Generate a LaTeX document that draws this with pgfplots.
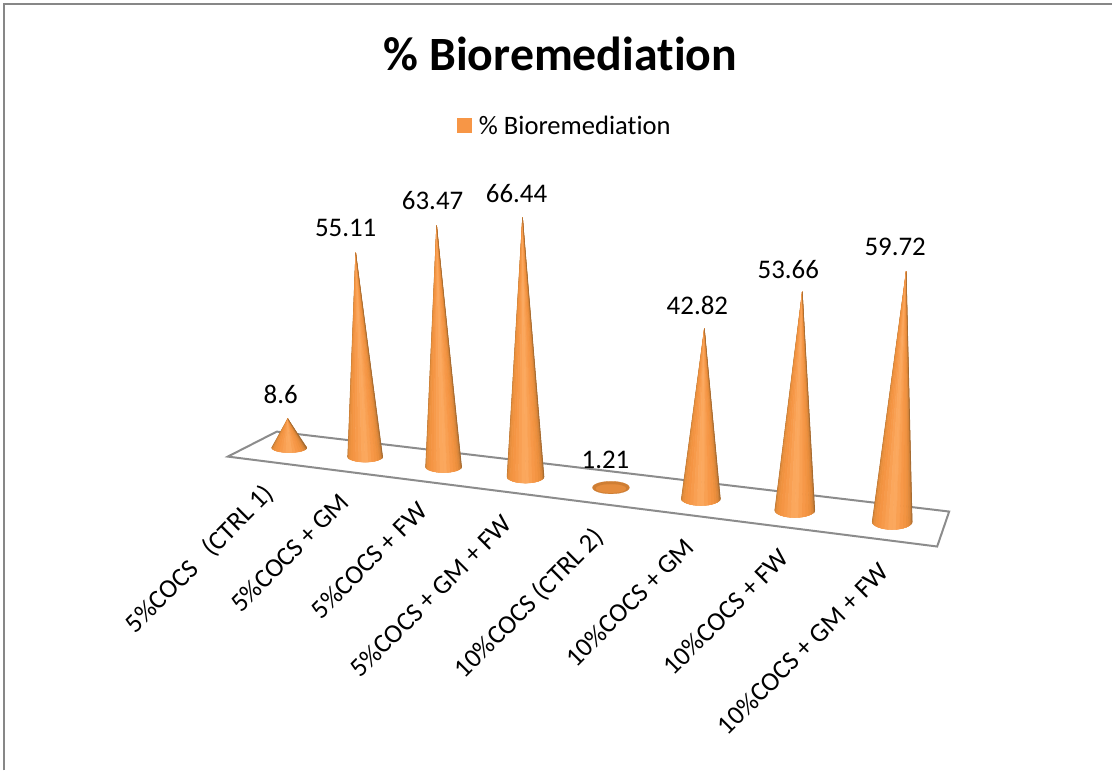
\documentclass[border=0pt]{standalone}
\usepackage{pgfplots}
\usepackage{fontspec}
\setmainfont{Carlito}[Ligatures=NoCommon]
\pgfplotsset{compat=1.18}
\definecolor{cs0}{HTML}{B87434}\definecolor{cs1}{HTML}{D98738}
\definecolor{cs2}{HTML}{E98F3E}\definecolor{cs3}{HTML}{F19340}
\definecolor{cs4}{HTML}{F59544}\definecolor{cs5}{HTML}{F79A4A}
\definecolor{cs6}{HTML}{F9A053}\definecolor{cs7}{HTML}{FBA75C}
\definecolor{cs8}{HTML}{FBA85E}\definecolor{cs9}{HTML}{F9A052}
\definecolor{cs10}{HTML}{F79848}\definecolor{cs11}{HTML}{F39442}
\definecolor{cs12}{HTML}{EC8F3D}\definecolor{cs13}{HTML}{DF883A}
\definecolor{cs14}{HTML}{CB7E36}\definecolor{cs15}{HTML}{A76B30}
\definecolor{legor}{HTML}{F79646}
\definecolor{frameg}{HTML}{878787}
\definecolor{lowrim}{HTML}{CF7E33}
\definecolor{lowtop}{HTML}{E48C3D}
% flat ellipse: centre x, y, radii x, y, colour
\newcommand\disc[5]{%
  \def\ell{}%
  \pgfplotsforeachungrouped \j in {0,...,23}{%
    \pgfmathsetmacro\xa{#1+#3*cos(\j*15)}%
    \pgfmathsetmacro\ya{#2+#4*sin(\j*15)}%
    \edef\ell{\ell(\xa,\ya)}%
  }%
  \edef\cmd{\noexpand\addplot[forget plot, fill=#5, draw=#5, line width=0.2pt]
      coordinates {\ell} --cycle;}\cmd
}
% base x, base y, pixels per unit, value, tip lean, base radii x,y
\newcommand\cone[7]{%
  \pgfmathsetmacro\tx{#1+#5}%
  \pgfmathsetmacro\ty{#2-#3*#4}%
  \disc{#1}{#2}{#6}{#7}{cs2}%
  \pgfplotsforeachungrouped \j in {0,...,15}{%
    \pgfmathsetmacro\aa{180-\j*11.25}%
    \pgfmathsetmacro\ab{180-(\j+1)*11.25}%
    \pgfmathsetmacro\xa{#1+#6*cos(\aa)}%
    \pgfmathsetmacro\ya{#2+#7*sin(\aa)}%
    \pgfmathsetmacro\xb{#1+#6*cos(\ab)}%
    \pgfmathsetmacro\yb{#2+#7*sin(\ab)}%
    \edef\cmd{\noexpand\addplot[forget plot, fill=cs\j, draw=cs\j, line width=0.5pt]
      coordinates {(\tx,\ty)(\xa,\ya)(\xb,\yb)} --cycle;}\cmd
  }%
}
\begin{document}
\begin{tikzpicture}
\begin{axis}[
  width=1113bp, height=771bp, scale only axis,
  xmin=0, xmax=1113, ymin=0, ymax=771, y dir=reverse,
  hide axis, clip=false,
  title={\fontsize{48}{55}\selectfont\bfseries \% Bioremediation},
  title style={at={(axis description cs:0.504,0.922)}, anchor=center, inner sep=0pt},
  legend style={at={(axis cs:457,126)}, anchor=west, draw=none, fill=none,
    font=\fontsize{26.7}{31}\selectfont, inner sep=0pt, outer sep=0pt},
  legend image code/.code={\fill[legor] (3bp,-6.5bp) rectangle (17bp,7.5bp);},
]
\addlegendimage{}
\addlegendentry{\ \% Bioremediation}
% page extent
\addplot[forget plot, draw=none] coordinates {(0,0)(1113,771)};
% chart border
\addplot[forget plot, draw=frameg, line width=2bp] coordinates {(4,771)(4,4)(1113,4)};
% floor
\addplot[forget plot, draw=black!45, fill=white, line width=2bp]
  coordinates {(228,457)(277,432)(950,512)(938,547)} --cycle;
% cones: base x, base y, px per unit, VALUE, lean, rx, ry
\cone{289.5}{448}{3.37}{8.6}{-1.5}{17.5}{5}
\cone{365.5}{457}{3.70}{55.11}{-9.5}{17.5}{5.5}
\cone{444}{467}{3.80}{63.47}{-7}{18}{6}
\cone{526}{477}{3.90}{66.44}{-3}{18.5}{6.5}
% the 1.21 cone is so low that only its base shows
\disc{611.5}{488}{18.5}{6.3}{lowrim}
\disc{611.5}{489}{15}{4.3}{lowtop}
\cone{701.5}{499}{3.97}{42.82}{3.5}{19.5}{7}
\cone{795.5}{510.5}{4.07}{53.66}{7.5}{20}{7.5}
\cone{893}{522}{4.19}{59.72}{14}{20}{8}
% value labels
\addplot[forget plot, only marks, mark=none, point meta=explicit symbolic,
  nodes near coords, every node near coord/.append style={anchor=center, inner sep=0pt,
    font=\fontsize{27}{31}\selectfont, text=black}]
  table[meta=lab] {
x y lab
281 395 8.6
346 228 55.11
433 201 63.47
517 194 66.44
606 460 1.21
698 306 42.82
789 270 53.66
896 247 59.72
};
% category labels
\begin{scope}[every node/.style={rotate=45, anchor=east, inner sep=0pt, font=\fontsize{26.7}{31}\selectfont}]
\node at (axis cs:270,490) {5\%COCS\ \ \ (CTRL 1)};
\node at (axis cs:345,498) {5\%COCS + GM};
\node at (axis cs:423,507) {5\%COCS + FW};
\node at (axis cs:508,520) {5\%COCS + GM + FW};
\node at (axis cs:600,534) {10\%COCS (CTRL 2)};
\node at (axis cs:690,543) {10\%COCS + GM};
\node at (axis cs:785,554) {10\%COCS + FW};
\node at (axis cs:885,568) {10\%COCS + GM + FW};
\end{scope}
\end{axis}
\end{tikzpicture}
\end{document}
